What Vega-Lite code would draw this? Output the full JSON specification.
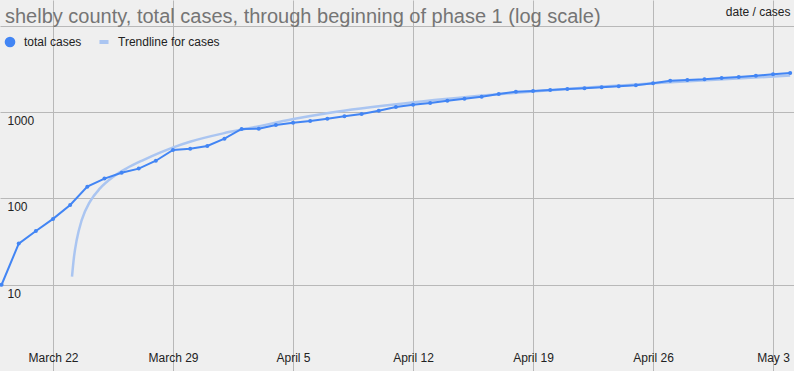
{
  "$schema": "https://vega.github.io/schema/vega-lite/v6.json",
  "width": 794,
  "height": 371,
  "padding": 0,
  "autosize": {"type": "none"},
  "background": "#efefef",
  "config": {"view": {"stroke": null}, "font": "Liberation Sans"},
  "title": {
    "text": "shelby county, total cases, through beginning of phase 1 (log scale)",
    "anchor": "start",
    "frame": "group",
    "offset": -42.5,
    "baseline": "alphabetic",
    "dx": 5,
    "fontSize": 20,
    "fontWeight": "normal",
    "color": "#757575",
    "font": "Liberation Sans"
  },
  "data": {
    "values": [
      {"date": "2020-03-19", "value": 10, "series": "total cases"},
      {"date": "2020-03-20", "value": 30, "series": "total cases"},
      {"date": "2020-03-21", "value": 42, "series": "total cases"},
      {"date": "2020-03-22", "value": 58, "series": "total cases"},
      {"date": "2020-03-23", "value": 84, "series": "total cases"},
      {"date": "2020-03-24", "value": 137, "series": "total cases"},
      {"date": "2020-03-25", "value": 170, "series": "total cases"},
      {"date": "2020-03-26", "value": 199, "series": "total cases"},
      {"date": "2020-03-27", "value": 222, "series": "total cases"},
      {"date": "2020-03-28", "value": 274, "series": "total cases"},
      {"date": "2020-03-29", "value": 365, "series": "total cases"},
      {"date": "2020-03-30", "value": 378, "series": "total cases"},
      {"date": "2020-03-31", "value": 406, "series": "total cases"},
      {"date": "2020-04-01", "value": 493, "series": "total cases"},
      {"date": "2020-04-02", "value": 639, "series": "total cases"},
      {"date": "2020-04-03", "value": 642, "series": "total cases"},
      {"date": "2020-04-04", "value": 711, "series": "total cases"},
      {"date": "2020-04-05", "value": 756, "series": "total cases"},
      {"date": "2020-04-06", "value": 791, "series": "total cases"},
      {"date": "2020-04-07", "value": 841, "series": "total cases"},
      {"date": "2020-04-08", "value": 897, "series": "total cases"},
      {"date": "2020-04-09", "value": 953, "series": "total cases"},
      {"date": "2020-04-10", "value": 1042, "series": "total cases"},
      {"date": "2020-04-11", "value": 1150, "series": "total cases"},
      {"date": "2020-04-12", "value": 1222, "series": "total cases"},
      {"date": "2020-04-13", "value": 1279, "series": "total cases"},
      {"date": "2020-04-14", "value": 1361, "series": "total cases"},
      {"date": "2020-04-15", "value": 1435, "series": "total cases"},
      {"date": "2020-04-16", "value": 1513, "series": "total cases"},
      {"date": "2020-04-17", "value": 1626, "series": "total cases"},
      {"date": "2020-04-18", "value": 1729, "series": "total cases"},
      {"date": "2020-04-19", "value": 1762, "series": "total cases"},
      {"date": "2020-04-20", "value": 1811, "series": "total cases"},
      {"date": "2020-04-21", "value": 1859, "series": "total cases"},
      {"date": "2020-04-22", "value": 1894, "series": "total cases"},
      {"date": "2020-04-23", "value": 1944, "series": "total cases"},
      {"date": "2020-04-24", "value": 1997, "series": "total cases"},
      {"date": "2020-04-25", "value": 2051, "series": "total cases"},
      {"date": "2020-04-26", "value": 2163, "series": "total cases"},
      {"date": "2020-04-27", "value": 2321, "series": "total cases"},
      {"date": "2020-04-28", "value": 2364, "series": "total cases"},
      {"date": "2020-04-29", "value": 2408, "series": "total cases"},
      {"date": "2020-04-30", "value": 2495, "series": "total cases"},
      {"date": "2020-05-01", "value": 2561, "series": "total cases"},
      {"date": "2020-05-02", "value": 2650, "series": "total cases"},
      {"date": "2020-05-03", "value": 2752, "series": "total cases"},
      {"date": "2020-05-04", "value": 2850, "series": "total cases"},
      {"date": "2020-03-23T02:34:00Z", "value": 12.4, "series": "Trendline for cases"},
      {"date": "2020-03-23T05:21:00Z", "value": 21, "series": "Trendline for cases"},
      {"date": "2020-03-23T09:08:00Z", "value": 33, "series": "Trendline for cases"},
      {"date": "2020-03-23T16:08:00Z", "value": 56, "series": "Trendline for cases"},
      {"date": "2020-03-24T03:46:00Z", "value": 92, "series": "Trendline for cases"},
      {"date": "2020-03-24T17:46:00Z", "value": 131, "series": "Trendline for cases"},
      {"date": "2020-03-25T12:23:00Z", "value": 179, "series": "Trendline for cases"},
      {"date": "2020-03-26T07:08:00Z", "value": 224, "series": "Trendline for cases"},
      {"date": "2020-03-27T06:23:00Z", "value": 279, "series": "Trendline for cases"},
      {"date": "2020-03-28T05:46:00Z", "value": 340, "series": "Trendline for cases"},
      {"date": "2020-03-29T00:23:00Z", "value": 392, "series": "Trendline for cases"},
      {"date": "2020-03-29T23:46:00Z", "value": 455, "series": "Trendline for cases"},
      {"date": "2020-03-31T22:20:00Z", "value": 569, "series": "Trendline for cases"},
      {"date": "2020-04-02T12:00:00Z", "value": 655, "series": "Trendline for cases"},
      {"date": "2020-04-05T00:30:00Z", "value": 834, "series": "Trendline for cases"},
      {"date": "2020-04-07T03:50:00Z", "value": 988, "series": "Trendline for cases"},
      {"date": "2020-04-12T01:26:00Z", "value": 1303, "series": "Trendline for cases"},
      {"date": "2020-04-19T00:00:00Z", "value": 1740, "series": "Trendline for cases"},
      {"date": "2020-04-26T00:00:00Z", "value": 2163, "series": "Trendline for cases"},
      {"date": "2020-05-04T00:00:00Z", "value": 2660, "series": "Trendline for cases"}
    ]
  },
  "encoding": {
    "x": {
      "field": "date",
      "type": "temporal",
      "scale": {
        "type": "utc",
        "domain": [
          {"year": 2020, "month": 3, "date": 18, "hours": 21, "minutes": 46, "utc": true},
          {"year": 2020, "month": 5, "date": 4, "hours": 5, "minutes": 20, "utc": true}
        ]
      },
      "axis": {
        "title": null,
        "values": [
          {"year": 2020, "month": 3, "date": 22, "utc": true},
          {"year": 2020, "month": 3, "date": 29, "utc": true},
          {"year": 2020, "month": 4, "date": 5, "utc": true},
          {"year": 2020, "month": 4, "date": 12, "utc": true},
          {"year": 2020, "month": 4, "date": 19, "utc": true},
          {"year": 2020, "month": 4, "date": 26, "utc": true},
          {"year": 2020, "month": 5, "date": 3, "utc": true}
        ],
        "format": "%B %-d",
        "grid": true,
        "gridColor": "#b8b8b8",
        "gridOpacity": 1,
        "domain": false,
        "ticks": false,
        "labelPadding": -9.5,
        "labelBaseline": "alphabetic",
        "labelFontSize": 12,
        "labelColor": "#222222",
        "labelFont": "Liberation Sans",
        "labelFlush": false,
        "labelOverlap": false
      }
    },
    "y": {
      "field": "value",
      "type": "quantitative",
      "scale": {"type": "log", "domain": [1, 20000]},
      "axis": {
        "title": "date / cases",
        "titleAngle": 0,
        "titleX": 790,
        "titleY": 15,
        "titleAlign": "right",
        "titleBaseline": "alphabetic",
        "titleFontSize": 12,
        "titleFontWeight": "normal",
        "titleColor": "#222222",
        "titleFont": "Liberation Sans",
        "values": [10, 100, 1000, 10000],
        "format": "d",
        "labelExpr": "datum.value >= 10000 ? '' : datum.label",
        "grid": true,
        "gridColor": "#b8b8b8",
        "gridOpacity": 1,
        "domain": false,
        "ticks": false,
        "labelAlign": "left",
        "labelPadding": -7,
        "labelBaseline": "alphabetic",
        "labelOffset": 12.5,
        "labelFontSize": 12,
        "labelColor": "#222222",
        "labelFont": "Liberation Sans",
        "labelFlush": false,
        "labelOverlap": false
      }
    },
    "color": {
      "field": "series",
      "type": "nominal",
      "scale": {
        "domain": ["total cases", "Trendline for cases"],
        "range": ["#4285f4", "#aac5f1"]
      },
      "legend": {
        "title": null,
        "orient": "none",
        "legendX": 4,
        "legendY": 36,
        "direction": "horizontal",
        "padding": 0,
        "symbolType": "circle",
        "symbolSize": 113,
        "symbolStrokeWidth": 0,
        "labelOffset": 8,
        "columnPadding": 16,
        "labelFontSize": 12,
        "labelColor": "#222222",
        "labelFont": "Liberation Sans",
        "encode": {
          "symbols": {
            "update": {
              "shape": {"signal": "datum.value === 'total cases' ? 'circle' : 'M-0.85,-0.38H0.85V0.38H-0.85Z'"},
              "fill": {"signal": "datum.value === 'total cases' ? '#4285f4' : '#aac5f1'"},
              "stroke": {"value": "transparent"},
              "opacity": {"value": 1}
            }
          }
        }
      }
    }
  },
  "layer": [
    {
      "transform": [{"filter": "datum.series === 'Trendline for cases'"}],
      "mark": {"type": "line", "strokeWidth": 2.5, "clip": true, "interpolate": "monotone"}
    },
    {
      "transform": [{"filter": "datum.series === 'total cases'"}],
      "mark": {
        "type": "line",
        "strokeWidth": 2,
        "clip": true,
        "point": {"filled": true, "size": 16, "opacity": 1}
      }
    }
  ]
}
